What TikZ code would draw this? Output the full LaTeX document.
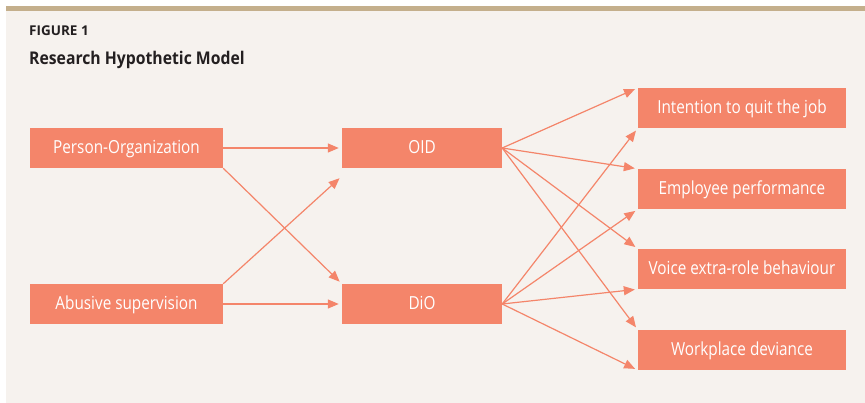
\documentclass[tikz,border=0pt]{standalone}
\usepackage{fontspec}
\setmainfont{Open Sans}
\newfontfamily\boxfont[FakeStretch=0.85]{Open Sans}
\newfontfamily\titlefont[FakeStretch=0.9]{Open Sans}
\newfontfamily\figfont{Open Sans}
\usetikzlibrary{arrows.meta}
\definecolor{salmon}{HTML}{F4856A}
\definecolor{panel}{HTML}{F6F2EE}
\definecolor{band}{HTML}{C4AF8C}
\definecolor{ink}{HTML}{231F20}
\begin{document}
\begin{tikzpicture}[x=1pt,y=-1pt,
  bx/.style={fill=salmon,draw=none,text=white,inner sep=0pt,
    text height=13pt,text depth=2.4pt,
    minimum height=40pt,font=\boxfont\fontsize{18}{21}\selectfont},
  arr/.style={draw=salmon,line width=1.2pt,-{Triangle[length=11pt,width=9pt]},shorten >=3pt}]
\useasboundingbox (0,0) rectangle (865,403);
\fill[panel] (6,6) rectangle (865,403);
\fill[band] (6,6) rectangle (865,11);
\node[anchor=base west,inner sep=0pt,text=ink,font=\figfont\bfseries\fontsize{13.5}{15}\selectfont] (fig) at (29,36) {FIGURE 1};
\node[anchor=base west,inner sep=0pt,text=ink,font=\titlefont\bfseries\fontsize{17.5}{20}\selectfont] (ttl) at (29,65) {Research Hypothetic Model};
\node[bx,minimum width=193pt] (po) at (126.5,148) {Person-Organization};
\node[bx,minimum width=193pt] (as) at (126.5,304) {Abusive supervision};
\node[bx,minimum width=160pt] (oid) at (422,148) {OID};
\node[bx,minimum width=160pt] (dio) at (422,304) {DiO};
\node[bx,minimum width=208pt] (int) at (742,108) {Intention to quit the job};
\node[bx,minimum width=208pt] (emp) at (742,189) {Employee performance};
\node[bx,minimum width=208pt] (voi) at (742,269) {Voice extra-role behaviour};
\node[bx,minimum width=208pt] (wpd) at (742,350) {Workplace deviance};
\draw[arr] (po.east) -- (oid.west);
\draw[arr] (po.south east) -- (dio.north west);
\draw[arr] (as.north east) -- ([yshift=-8pt]oid.south west);
\draw[arr] (as.east) -- (dio.west);
\foreach \t in {int,emp,voi,wpd}{
  \draw[arr] (oid.east) -- (\t.north west);
  \draw[arr] (dio.east) -- (\t.south west);
}
\end{tikzpicture}
\end{document}
